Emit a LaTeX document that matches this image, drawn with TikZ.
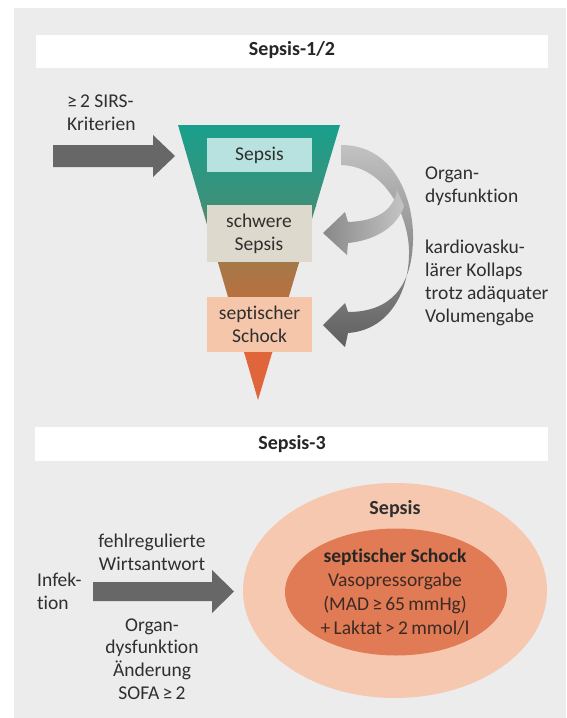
\documentclass[tikz,border=0pt]{standalone}
\usepackage{fontspec}
\setmainfont{Carlito}[Ligatures={NoCommon}]
\usetikzlibrary{shapes.geometric}
\definecolor{panel}{HTML}{ECECEC}
\definecolor{textc}{HTML}{2F2F2F}
\definecolor{arrowdark}{HTML}{676767}
\definecolor{fa}{HTML}{18A08D}
\definecolor{fb}{HTML}{3E9078}
\definecolor{fc}{HTML}{A47848}
\definecolor{fd}{HTML}{B9703F}
\definecolor{fe}{HTML}{E0653A}
\definecolor{boxa}{HTML}{B8E2DF}
\definecolor{boxb}{HTML}{DDD9CD}
\definecolor{boxc}{HTML}{F6C6AB}
\definecolor{gla}{HTML}{C2C2C2}
\definecolor{glb}{HTML}{C8C8C8}
\definecolor{glc}{HTML}{5F5F5F}
\definecolor{gua}{HTML}{C4C4C4}
\definecolor{gub}{HTML}{888888}
\definecolor{ellout}{HTML}{F6C8B0}
\definecolor{ellin}{HTML}{E07B56}
\definecolor{elltext}{HTML}{3E2A24}
\begin{document}
\begin{tikzpicture}[x=1pt,y=-1pt,
  txt/.style={font=\fontsize{19.5}{22.8}\selectfont, text=textc, inner sep=0pt},
  titletxt/.style={font=\fontsize{20}{24}\selectfont\bfseries, text=black!85, inner sep=0pt},
  bar/.style={fill=white, draw=none},
  fbox/.style={draw=none, inner sep=0pt, minimum width=105pt, align=center,
     font=\fontsize{19.5}{23.3}\selectfont, text=textc},
  blockarrow/.style={fill=arrowdark, draw=none}]
\useasboundingbox (0,0) rectangle (566,718);
\fill[white] (0,0) rectangle (566,718);
\fill[panel] (14,8) rectangle (566,718);

% ---------- Sepsis-1/2 ----------
\fill[bar] (36,35) rectangle (548,68);
\node[titletxt] (title1) at (292,50) {Sepsis-1/2};

% funnel
\begin{scope}
\clip (178,125) -- (340,125) -- (258,400) -- cycle;
\shade[top color=fa, bottom color=fb] (170,124) rectangle (350,206);
\shade[top color=fb, bottom color=fc] (170,205) rectangle (350,263);
\shade[top color=fc, bottom color=fd] (170,262) rectangle (350,298);
\shade[top color=fd, bottom color=fe] (170,297) rectangle (350,353);
\fill[fe] (170,352) rectangle (350,401);
\end{scope}
\coordinate (ftip) at (258,400);

\node[fbox, fill=boxa, minimum height=34pt] (fsepsis) at (259.5,155) {Sepsis};
\node[fbox, fill=boxb, minimum height=57pt] (fschwer) at (259,233.5) {schwere\\Sepsis};
\node[fbox, fill=boxc, minimum height=55pt] (fschock) at (259.5,324.5) {septischer\\Schock};

% SIRS arrow
\node[txt, align=left, anchor=west] (sirs) at (67,112.5) {≥\,2 SIRS-\\Kriterien};
\coordinate (sirsS) at (53,156);
\coordinate (sirsT) at (175,156);
\fill[blockarrow] ([shift={(0,-11)}]sirsS) -- ([shift={(100,-11)}]sirsS)
   -- ([shift={(100,-21)}]sirsS) -- (sirsT) -- ([shift={(100,21)}]sirsS)
   -- ([shift={(100,11)}]sirsS) -- ([shift={(0,11)}]sirsS) -- cycle;

% curved arrows
\coordinate (cstart) at (341,145);
\shade[top color=gla, middle color=glb, bottom color=glc]
  (cstart) .. controls (395,145) and (414,200) .. (413,240)
  .. controls (412,285) and (392,312) .. (348,312) -- (345,303)
  -- (323,325) -- (345,347) -- (348,333)
  .. controls (390,330) and (410,290) .. (409,250)
  .. controls (408,215) and (385,166) .. (341,165) -- cycle;
\shade[left color=gub, right color=gua]
  (397,190) .. controls (393,212) and (375,221) .. (348,222) -- (345,212)
  -- (323,233) -- (347,255) -- (348,243)
  .. controls (378,240) and (398,225) .. (404,206) -- cycle;

\node[txt, align=left, anchor=west] (organ) at (425,186.5) {Organ-\\dysfunktion};
\node[txt, align=left, anchor=west] (kardio) at (425,283) {kardiovasku-\\lärer Kollaps\\trotz adäquater\\Volumengabe};

% ---------- Sepsis-3 ----------
\fill[bar] (35,427) rectangle (548,461);
\node[titletxt] (title2) at (292,444) {Sepsis-3};

\node[ellipse, fill=ellout, minimum width=304pt, minimum height=215pt, inner sep=0pt] (outerell) at (395,590.5) {};
\node[ellipse, fill=ellin, minimum width=222pt, minimum height=127pt, inner sep=0pt] (innerell) at (396,592) {};
\node[titletxt, text=textc] (sep3) at (395,509) {Sepsis};
\node[txt, align=center, text=elltext, font=\fontsize{19.5}{23.8}\selectfont] (schock3) at (395,592)
  {\textbf{\color{black!85}septischer Schock}\\Vasopressorgabe\\(MAD\,≥\,65\,mmHg)\\+\,Laktat\,>\,2\,mmol/l};

\node[txt, align=left, anchor=west] (infek) at (37,591) {Infek-\\tion};
\node[txt, align=center] (fehl) at (152,552) {fehlregulierte\\Wirtsantwort};
\node[txt, align=center] (organ3) at (152,659) {Organ-\\dysfunktion\\Änderung\\SOFA\,≥\,2};

\coordinate (s3S) at (93,591.5);
\coordinate (s3T) at (234,591.5);
\fill[blockarrow] ([shift={(0,-9.5)}]s3S) -- ([shift={(119,-9.5)}]s3S)
   -- ([shift={(119,-21.5)}]s3S) -- (s3T) -- ([shift={(119,21.5)}]s3S)
   -- ([shift={(119,9.5)}]s3S) -- ([shift={(0,9.5)}]s3S) -- cycle;
\end{tikzpicture}
\end{document}
